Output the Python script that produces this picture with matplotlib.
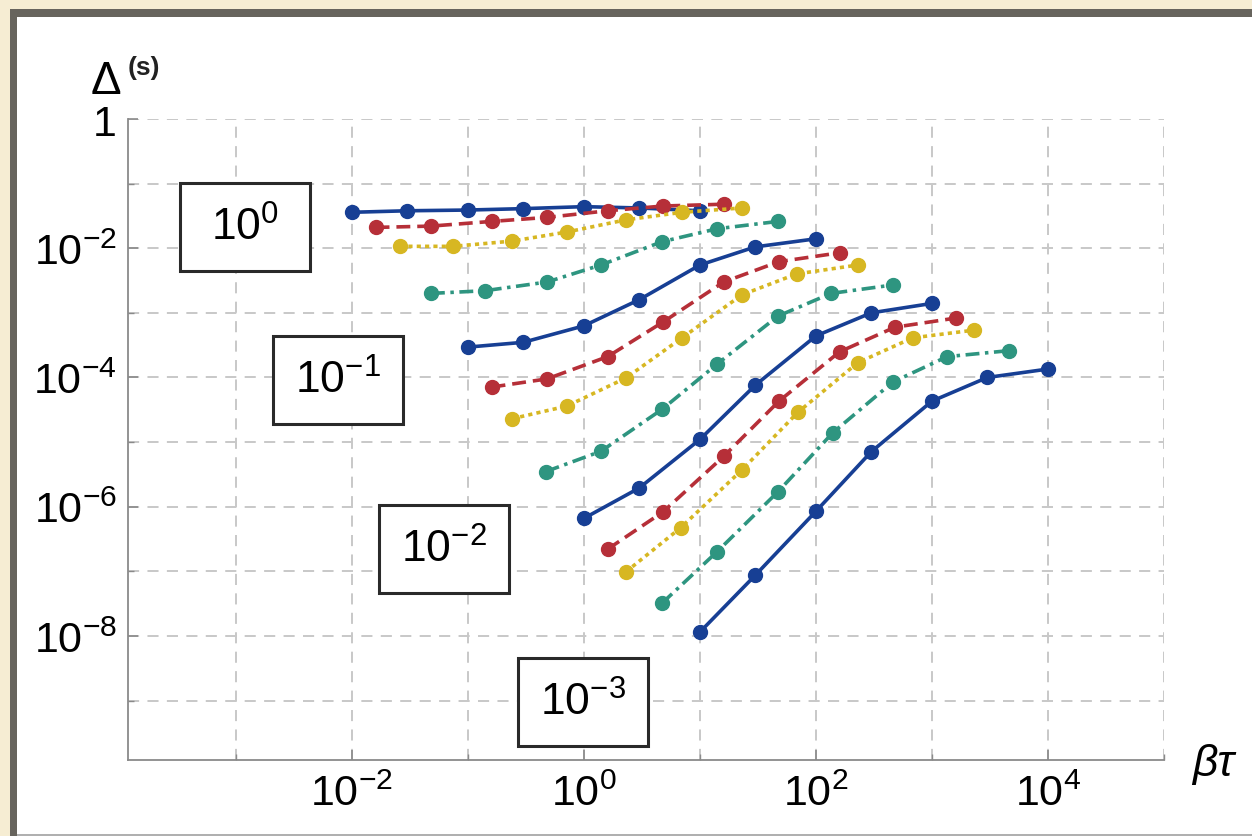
import numpy as np
import matplotlib
matplotlib.use('Agg')
import matplotlib.pyplot as plt
from matplotlib.patches import Rectangle
from matplotlib.ticker import FixedLocator, FixedFormatter, NullFormatter

plt.rcParams['font.family'] = ['Liberation Sans', 'DejaVu Sans']
plt.rcParams['mathtext.fontset'] = 'custom'
plt.rcParams['mathtext.rm'] = 'Liberation Sans'
plt.rcParams['mathtext.it'] = 'Liberation Sans:italic'
plt.rcParams['lines.scale_dashes'] = False

# data
blue_x = [[0.01, 0.03, 0.1, 0.3, 1, 3, 10],
          [0.1, 0.3, 1, 3, 10, 30, 100],
          [1, 3, 10, 30, 100, 300, 1000],
          [10, 30, 100, 300, 1000, 3000, 10000]]
blue_y = [[0.036, 0.038, 0.039, 0.041, 0.044, 0.042, 0.038],
          [2.95e-4, 3.5e-4, 6.3e-4, 1.6e-3, 5.5e-3, 1.05e-2, 1.4e-2],
          [6.6e-7, 1.95e-6, 1.1e-5, 7.6e-5, 4.4e-4, 1.0e-3, 1.4e-3],
          [1.15e-8, 8.7e-8, 8.5e-7, 7.1e-6, 4.3e-5, 1.0e-4, 1.35e-4]]

red_x = [[0.016, 0.048, 0.16, 0.48, 1.6, 4.8, 16],
         [0.16, 0.48, 1.6, 4.8, 16, 48, 160],
         [1.6, 4.8, 16, 48, 160, 480, 1600]]
red_y = [[0.021, 0.022, 0.026, 0.030, 0.038, 0.045, 0.048],
         [7.1e-5, 9.5e-5, 2.1e-4, 7.2e-4, 3.0e-3, 6.2e-3, 8.5e-3],
         [2.2e-7, 8.3e-7, 6.0e-6, 4.3e-5, 2.5e-4, 6.0e-4, 8.3e-4]]

yellow_x = [[0.026, 0.075, 0.24, 0.71, 2.3, 7, 23],
            [0.24, 0.71, 2.3, 7, 23, 68, 230],
            [2.3, 6.8, 23, 70, 230, 680, 2300]]
yellow_y = [[0.0107, 0.0107, 0.0129, 0.0178, 0.0275, 0.036, 0.042],
            [2.3e-5, 3.6e-5, 9.8e-5, 4.1e-4, 1.9e-3, 4.0e-3, 5.5e-3],
            [9.8e-8, 4.7e-7, 3.7e-6, 2.9e-5, 1.7e-4, 4.1e-4, 5.4e-4]]

green_x = [[0.048, 0.14, 0.48, 1.4, 4.7, 14, 47],
           [0.47, 1.4, 4.7, 14, 47, 135, 460],
           [4.7, 14, 47, 140, 460, 1350, 4600]]
green_y = [[2.0e-3, 2.2e-3, 3.0e-3, 5.5e-3, 1.26e-2, 2.0e-2, 2.6e-2],
           [3.5e-6, 7.2e-6, 3.2e-5, 1.6e-4, 8.9e-4, 2.0e-3, 2.7e-3],
           [3.2e-8, 2.0e-7, 1.7e-6, 1.4e-5, 8.5e-5, 2.1e-4, 2.6e-4]]

box_labels = ['$10^{0}$', '$10^{-1}$', '$10^{-2}$', '$10^{-3}$']

x_major = [1e-2, 1e0, 1e2, 1e4]
x_major_labels = ['$10^{-2}$', '$10^{0}$', '$10^{2}$', '$10^{4}$']
x_minor = [1e-3, 1e-1, 1e1, 1e3, 1e5]
y_major = [1e0, 1e-2, 1e-4, 1e-6, 1e-8]
y_major_labels = ['1', '$10^{-2}$', '$10^{-4}$', '$10^{-6}$', '$10^{-8}$']
y_minor = [1e-1, 1e-3, 1e-5, 1e-7, 1e-9]

W, H = 1252, 837
fig = plt.figure(figsize=(W / 100, H / 100), dpi=100)
fig.patch.set_facecolor('#f6edd3')


def fx(x):
    return x / W


def fy(y):
    return 1 - y / H


# page frame
fig.patches.append(Rectangle((fx(10), fy(837)), fx(1252) - fx(10), fy(10) - fy(837),
                             transform=fig.transFigure, facecolor='#67645d',
                             edgecolor='none', zorder=-10))
fig.patches.append(Rectangle((fx(17), fy(837)), fx(1252) - fx(17), fy(18) - fy(837),
                             transform=fig.transFigure, facecolor='#b0b0b0',
                             edgecolor='none', zorder=-9))
fig.patches.append(Rectangle((fx(17), fy(835)), fx(1252) - fx(17), fy(18) - fy(835),
                             transform=fig.transFigure, facecolor='white',
                             edgecolor='none', zorder=-8))

ax = fig.add_axes([fx(128), fy(761), fx(1164) - fx(128), fy(120) - fy(761)])
ax.set_facecolor('white')
ax.set_xscale('log')
ax.set_yscale('log')
ax.set_xlim(10 ** -3.93, 10 ** 5)
ax.set_ylim(10 ** -9.92, 1)

for s in ['top', 'right']:
    ax.spines[s].set_visible(False)
for s in ['left', 'bottom']:
    ax.spines[s].set_color('#8a8a8a')
    ax.spines[s].set_linewidth(1.3)

ax.xaxis.set_major_locator(FixedLocator(x_major))
ax.xaxis.set_major_formatter(FixedFormatter(x_major_labels))
ax.xaxis.set_minor_locator(FixedLocator(x_minor))
ax.xaxis.set_minor_formatter(NullFormatter())
ax.yaxis.set_major_locator(FixedLocator(y_major))
ax.yaxis.set_major_formatter(FixedFormatter(y_major_labels))
ax.yaxis.set_minor_locator(FixedLocator(y_minor))
ax.yaxis.set_minor_formatter(NullFormatter())

ax.tick_params(which='major', direction='in', length=7, width=1.2, color='#8a8a8a',
               labelsize=31)
ax.tick_params(which='minor', direction='in', length=4, width=1.0, color='#8a8a8a')
ax.tick_params(axis='x', which='major', pad=10)
ax.tick_params(axis='y', which='major', pad=8)

ax.grid(True, which='both', color='#c8c8c8', linewidth=1.4, linestyle=(0, (8, 6)))
ax.set_axisbelow(True)

styles = {
    'blue': dict(color='#173f94', linestyle='-'),
    'red': dict(color='#b62f38', linestyle=(0, (10, 5))),
    'yellow': dict(color='#d7b722', linestyle=(0, (3, 3))),
    'green': dict(color='#2e9580', linestyle=(0, (10, 4, 2.5, 4))),
}
groups = [('blue', blue_x, blue_y), ('red', red_x, red_y),
          ('yellow', yellow_x, yellow_y), ('green', green_x, green_y)]
for name, xs, ys in groups:
    for x, y in zip(xs, ys):
        ax.plot(x, y, marker='o', markersize=10, linewidth=2.6, zorder=3,
                **styles[name])

# labelled boxes (pixel centres)
box_pos = [(245, 228), (338, 381), (444, 550), (583, 703)]
for (cx, cy), lab in zip(box_pos, box_labels):
    bw, bh = 130, 88
    fig.patches.append(Rectangle((fx(cx - bw / 2), fy(cy + bh / 2)), bw / W, bh / H,
                                 transform=fig.transFigure, facecolor='white',
                                 edgecolor='#2a2a2a', linewidth=2.2, zorder=5))
    fig.text(fx(cx), fy(cy), lab, ha='center', va='center', fontsize=32, zorder=6)

fig.text(fx(106), fy(82), 'Δ', ha='center', va='center', fontsize=33)
fig.text(fx(144), fy(68), '(s)', ha='center', va='center', fontsize=19,
         fontweight='bold', color='#222222')
fig.text(fx(1213), fy(765), 'βτ', ha='center', va='center', fontsize=32,
         fontstyle='italic')

fig.savefig('out.png', dpi=100)
